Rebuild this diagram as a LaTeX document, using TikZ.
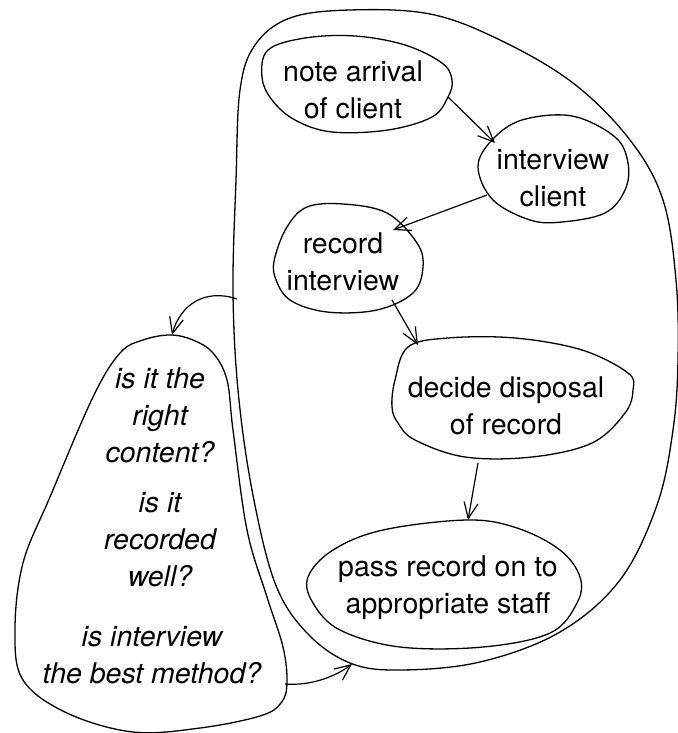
\documentclass[tikz,border=0pt]{standalone}
\usepackage{fontspec}
\setmainfont{TeX Gyre Heros}
\usetikzlibrary{arrows.meta}
\begin{document}
\begin{tikzpicture}[x=0.5pt,y=-0.5pt,
  outline/.style={line width=0.65pt},
  txt/.style={align=center, inner sep=0pt, font=\fontsize{14.25}{18.5}\selectfont},
  qtxt/.style={align=center, inner sep=0pt, font=\fontsize{14.25}{18.5}\selectfont\itshape},
  link/.style={line width=0.6pt, -{Straight Barb[length=8pt,width=7pt]}}]
\useasboundingbox (0,0) rectangle (678,733);

% enclosing boundary of the process
\draw[outline] plot[smooth cycle, tension=0.6] coordinates {
  (350,10) (430,14) (500,40) (573,83) (630,140) (663,200) (676,280)
  (678,360) (673,430) (657,505) (620,580) (560,632) (480,662) (400,670)
  (350,663) (307,633) (275,583) (252,490) (238,390) (233,290) (236,180)
  (240,90) (255,45) (290,18)};

% evaluation questions
\draw[outline] plot[smooth cycle, tension=0.6] coordinates {
  (170,335) (193,340) (213,353) (227,380) (233,430) (247,530) (267,597)
  (283,647) (287,683) (281,703) (260,716) (200,728) (133,732) (67,713)
  (23,680) (15,630) (23,563) (50,497) (93,397) (120,353) (143,340)};

% process steps
\draw[outline] plot[smooth cycle, tension=0.6] coordinates {
  (268,50) (305,38) (355,36) (405,45) (442,63) (452,80) (448,97)
  (432,117) (388,130) (332,132) (295,120) (272,100) (262,77)};
\draw[outline] plot[smooth cycle, tension=0.6] coordinates {
  (478,167) (492,140) (522,120) (572,116) (615,137) (628,163) (625,190)
  (605,213) (562,222) (530,220) (493,200)};
\draw[outline] plot[smooth cycle, tension=0.6] coordinates {
  (307,207) (343,204) (387,213) (417,243) (423,267) (413,293) (377,310)
  (327,312) (290,300) (275,277) (275,257) (287,227)};
\draw[outline] plot[smooth cycle, tension=0.6] coordinates {
  (408,347) (448,338) (515,338) (582,350) (628,373) (633,390) (625,413)
  (592,443) (532,457) (465,457) (415,440) (398,423) (392,407) (395,380)};
\draw[outline] plot[smooth cycle, tension=0.6] coordinates {
  (467,520) (517,528) (560,550) (580,577) (577,603) (550,633) (483,647)
  (400,647) (340,630) (313,603) (308,577) (333,550) (383,530)};

% texts
\node[txt] (note) at (353,90) {note arrival\\of client};
\node[txt] (intv) at (553,178) {interview\\client};
\node[txt] (rec) at (343,262) {record\\interview};
\node[txt] (dec) at (506,406) {decide disposal\\of record};
\node[txt] (pass) at (448,588) {pass record on to\\appropriate staff};
\node[qtxt] (q1) at (160,415) {is it the\\right\\content?};
\node[qtxt] (q2) at (160,540) {is it\\recorded\\well?};
\node[qtxt] (q3) at (152,655) {is interview\\the best method?};

% connector ends on the outlines
\coordinate (note-out) at (448,97);
\coordinate (intv-in) at (495,143);
\coordinate (intv-out) at (487,195);
\coordinate (rec-in) at (393,230);
\coordinate (rec-out) at (392,300);
\coordinate (dec-in) at (418,345);
\coordinate (dec-out) at (478,463);
\coordinate (pass-in) at (468,520);
\coordinate (proc-out) at (237,299);
\coordinate (eval-in) at (172,335);
\coordinate (eval-out) at (285,684);
\coordinate (proc-in) at (352,664);

\draw[link] (note-out) -- (intv-in);
\draw[link] (intv-out) -- (rec-in);
\draw[link] (rec-out) -- (dec-in);
\draw[link] (dec-out) -- (pass-in);
\draw[link] (proc-out) .. controls (205,288) and (180,305) .. (eval-in);
\draw[link] (eval-out) .. controls (310,686) and (335,677) .. (proc-in);
\end{tikzpicture}
\end{document}
